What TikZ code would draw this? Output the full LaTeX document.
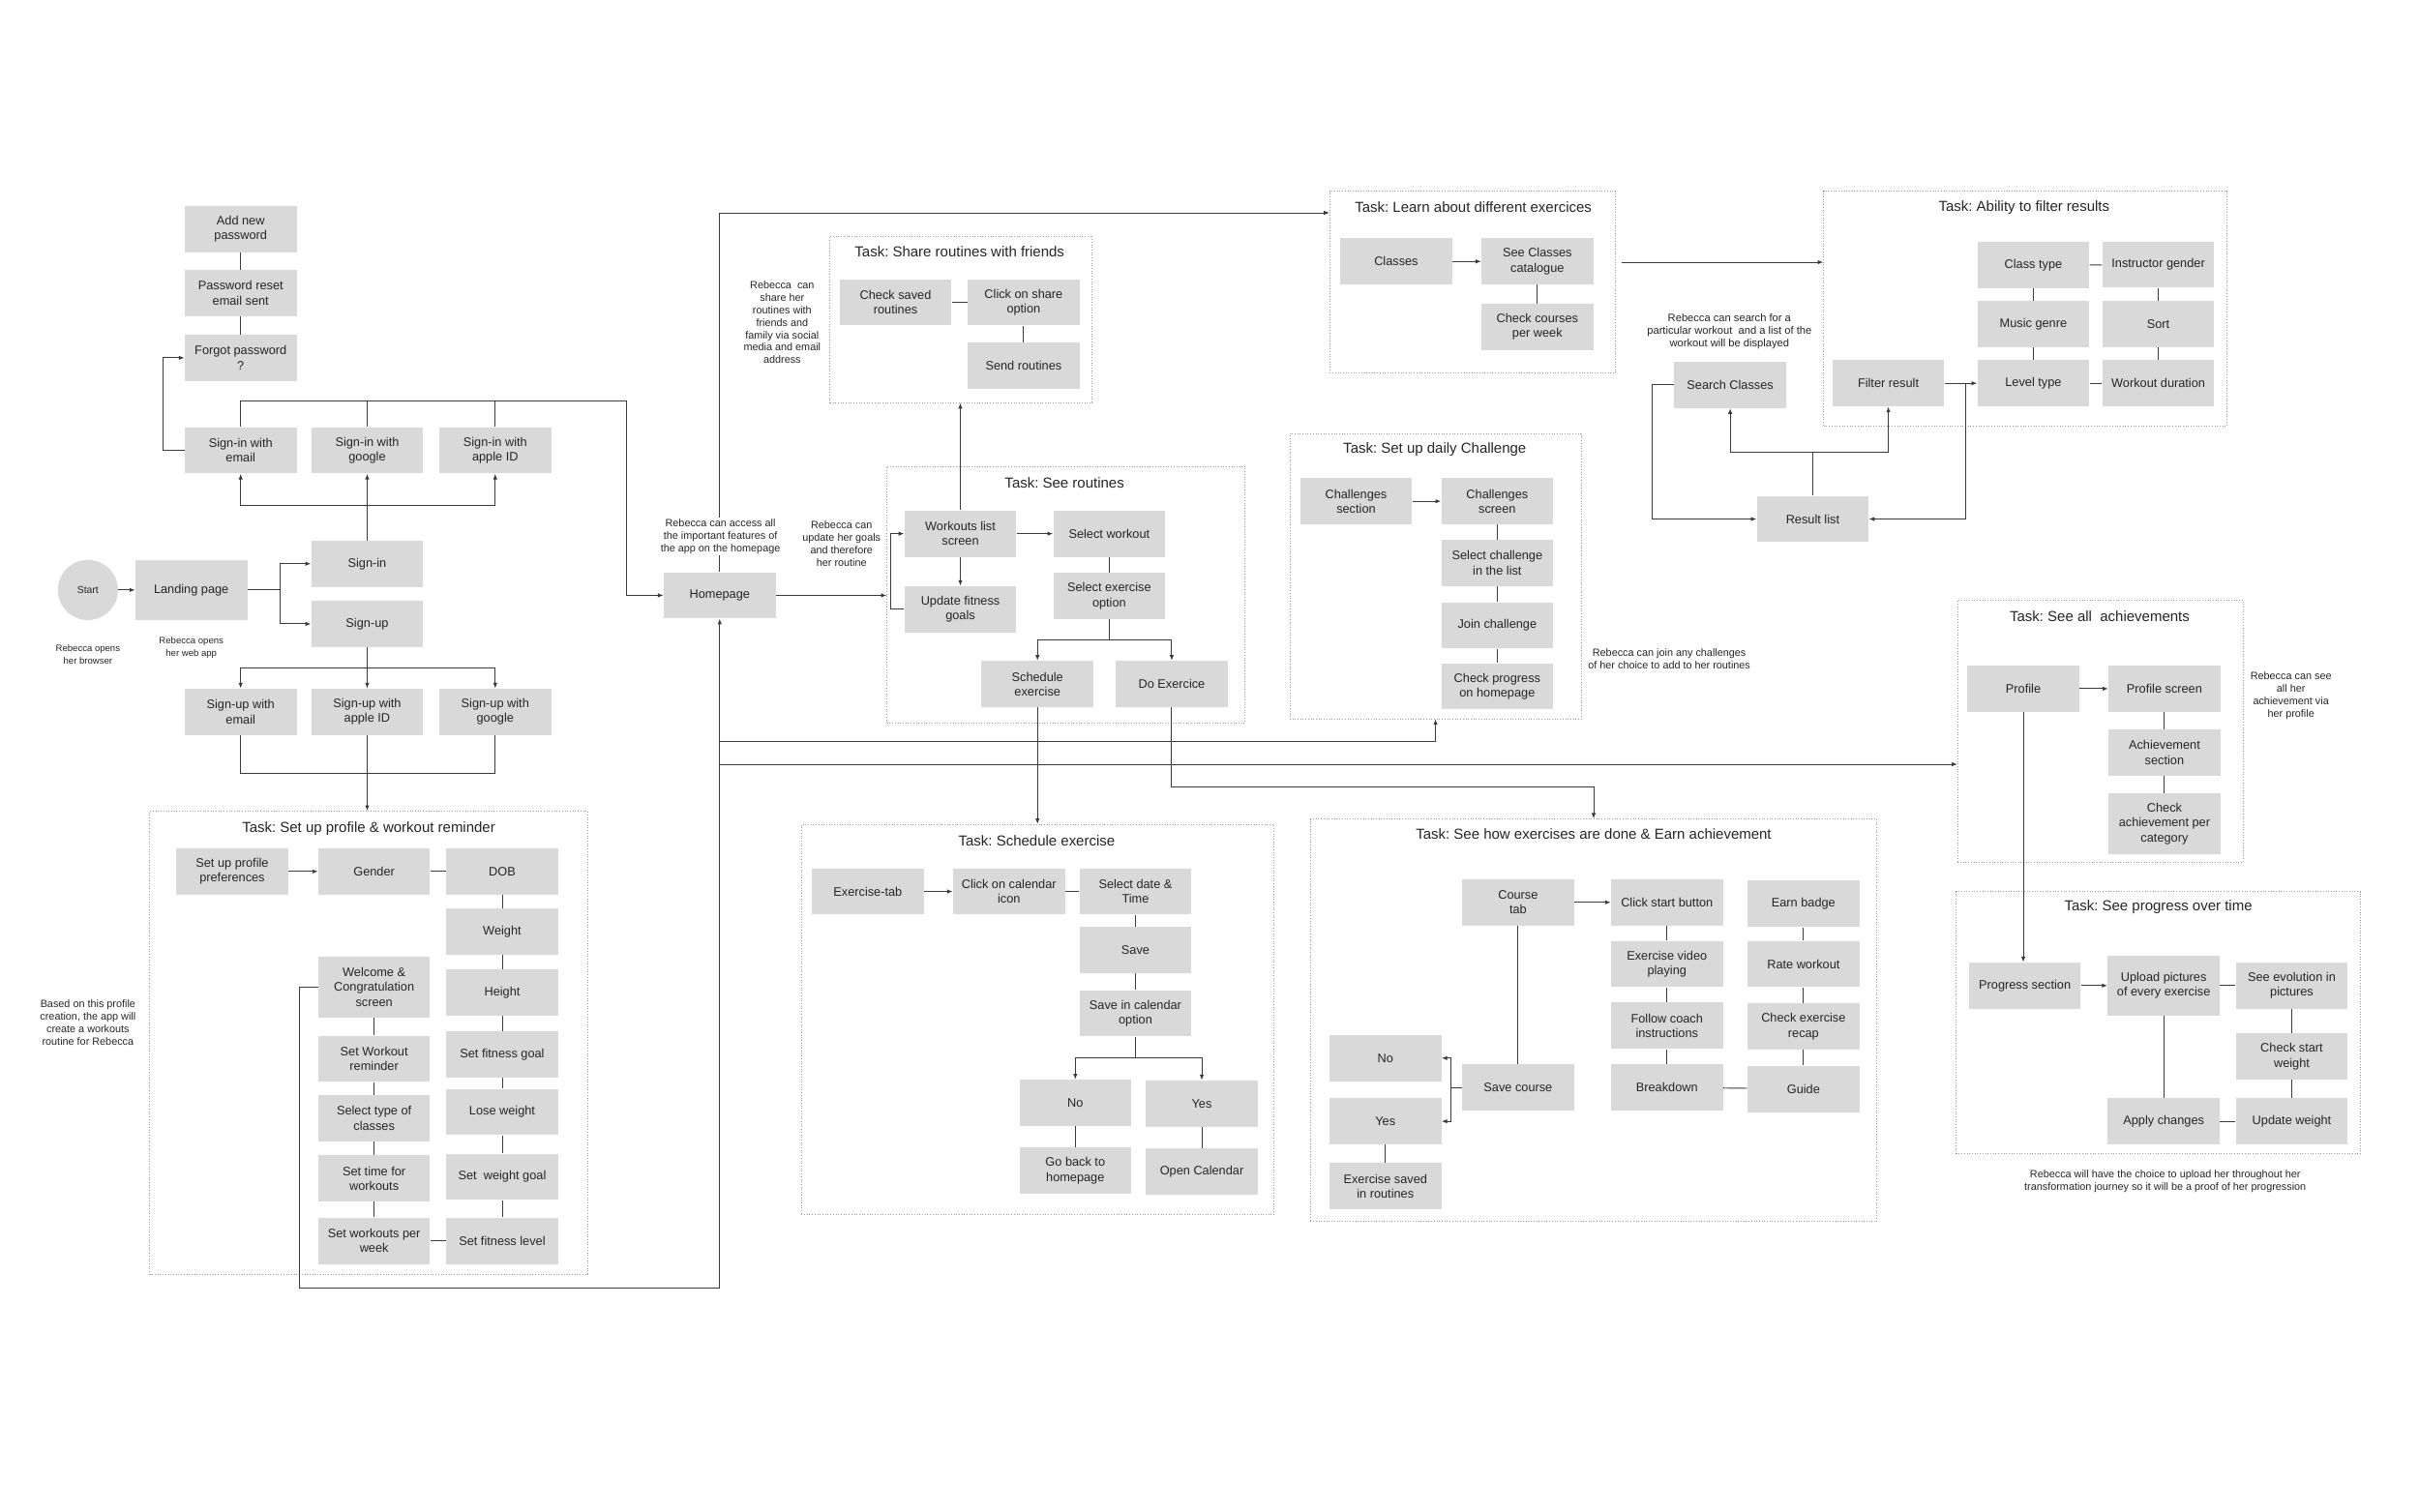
\documentclass[tikz,border=0pt]{standalone}
\usepackage{fontspec}
\setmainfont{Liberation Sans}
\setsansfont{Liberation Sans}
\usetikzlibrary{arrows.meta}
\frenchspacing

\definecolor{boxgray}{HTML}{D9D9D9}
\definecolor{linegray}{HTML}{3A3A3A}
\definecolor{framegray}{HTML}{9A9A9A}
\definecolor{textgray}{HTML}{262626}

\begin{document}
\begin{tikzpicture}[x=1pt, y=-1pt, font=\sffamily,
	box/.style={fill=boxgray, minimum width=72.5pt, minimum height=30pt, inner sep=1pt, align=center, text=textgray, font=\fontsize{8}{9.6}\selectfont},
	tallbox/.style={box, minimum height=39pt},
	task/.style={draw=framegray, line width=0.5pt, dash pattern=on 0.6pt off 1.1pt, inner sep=0pt},
	tasktitle/.style={text=textgray, font=\fontsize{9.4}{11}\selectfont},
	note/.style={align=center, text=textgray, inner sep=1pt, font=\fontsize{6.8}{8.1}\selectfont},
	link/.style={draw=linegray, line width=0.6pt},
	arr/.style={link, -{Latex[length=3.6pt,width=2.8pt]}}]

	% 0. Canvas
	\fill[white] (0,0) rectangle (1568,980);
	\useasboundingbox (0,0) rectangle (1568,980);

	% 1. Task frames
	\node[task, minimum width=284pt, minimum height=300pt] (tProfile) at (239,676) {};
	\node[task, minimum width=170pt, minimum height=108pt] (tShare) at (623,207) {};
	\node[task, minimum width=232pt, minimum height=166pt] (tRoutines) at (691,385.5) {};
	\node[task, minimum width=306pt, minimum height=253pt] (tSchedule) at (672.5,661) {};
	\node[task, minimum width=185pt, minimum height=118pt] (tLearn) at (954.5,183) {};
	\node[task, minimum width=189pt, minimum height=185pt] (tChallenge) at (930.5,373.5) {};
	\node[task, minimum width=367pt, minimum height=261pt] (tHow) at (1033,661.5) {};
	\node[task, minimum width=261.5pt, minimum height=152pt] (tFilter) at (1312.8,200) {};
	\node[task, minimum width=185pt, minimum height=170pt] (tAchieve) at (1361.5,474) {};
	\node[task, minimum width=262pt, minimum height=170pt] (tProgress) at (1399,663) {};

	\node[tasktitle] (tProfileT) at (239,537) {Task: Set up profile \& workout reminder};
	\node[tasktitle] (tShareT) at (622,163) {Task: Share routines with friends};
	\node[tasktitle] (tRoutinesT) at (690,313) {Task: See routines};
	\node[tasktitle] (tScheduleT) at (672,545) {Task: Schedule exercise};
	\node[tasktitle] (tLearnT) at (955,134.5) {Task: Learn about different exercices};
	\node[tasktitle] (tChallengeT) at (930,291.5) {Task: Set up daily Challenge};
	\node[tasktitle] (tHowT) at (1033,541) {Task: See how exercises are done \& Earn achievement};
	\node[tasktitle] (tFilterT) at (1312,134.5) {Task: Ability to filter results};
	\node[tasktitle] (tAchieveT) at (1361,399.5) {Task: See all~ achievements};
	\node[tasktitle] (tProgressT) at (1399,588) {Task: See progress over time};

	% 2. Start, sign-in and sign-up
	\node[circle, fill=boxgray, minimum size=39pt, inner sep=0pt, text=textgray, font=\fontsize{6.5}{8}\selectfont] (start) at (57,382.5) {Start};
	\node[box, minimum height=39pt] (landing) at (124,382.5) {Landing page};
	\node[box] (signIn) at (238,365.5) {Sign-in};
	\node[box] (signUp) at (238,404.5) {Sign-up};
	\node[box] (newPw) at (156,148.5) {Add new\\password};
	\node[box] (resetPw) at (156,190) {Password reset\\email sent};
	\node[box] (forgotPw) at (156,232) {Forgot password\\?};
	\node[box] (inEmail) at (156,292) {Sign-in with\\email};
	\node[box] (inGoogle) at (238,292) {Sign-in with\\google};
	\node[box] (inApple) at (321,292) {Sign-in with\\apple ID};
	\node[box] (upEmail) at (156,461.5) {Sign-up with\\email};
	\node[box] (upApple) at (238,461.5) {Sign-up with\\apple ID};
	\node[box] (upGoogle) at (321,461.5) {Sign-up with\\google};
	\node[note, font=\fontsize{6}{8}\selectfont] (browserNote) at (57,424.5) {Rebecca opens\\her browser};
	\node[note, font=\fontsize{6}{8}\selectfont] (webNote) at (124,420) {Rebecca opens\\her web app};

	% 3. Profile and workout reminder
	\node[box] (prefs) at (150.5,565) {Set up profile\\preferences};
	\node[box] (gender) at (242.5,565) {Gender};
	\node[box] (dob) at (325.5,565) {DOB};
	\node[box] (weight) at (325.5,604) {Weight};
	\node[box] (height) at (325.5,643.5) {Height};
	\node[box] (fitGoal) at (325.5,683.5) {Set fitness goal};
	\node[box] (loseW) at (325.5,721) {Lose weight};
	\node[box] (weightGoal) at (325.5,763) {Set~ weight goal};
	\node[box] (fitLevel) at (325.5,804.5) {Set fitness level};
	\node[tallbox] (welcome) at (242.5,640) {Welcome \&\\Congratulation\\screen};
	\node[box] (reminder) at (242.5,686.5) {Set Workout\\reminder};
	\node[box] (selType) at (242.5,725) {Select type of\\classes};
	\node[box] (timeW) at (242.5,764) {Set time for\\workouts};
	\node[box] (perWeek) at (242.5,804.5) {Set workouts per\\week};
	\node[note] (basedNote) at (57,663) {Based on this profile\\creation, the app will\\create a workouts\\routine for Rebecca};

	% 4. Homepage and routines
	\node[box] (home) at (466.5,386) {Homepage};
	\node[note] (updNote) at (545.5,352.5) {Rebecca can\\update her goals\\and therefore\\her routine};
	\node[note] (shareNote) at (507,209) {Rebecca~ can\\share her\\routines with\\friends and\\family via social\\media and email\\address};
	\node[box] (chkSaved) at (580.5,196) {Check saved\\routines};
	\node[box] (clickShare) at (663.5,196) {Click on share\\option};
	\node[box] (sendR) at (663.5,237) {Send routines};
	\node[box] (wList) at (622.5,346) {Workouts list\\screen};
	\node[box] (selWork) at (719,346) {Select workout};
	\node[box] (updGoals) at (622.5,395) {Update fitness\\goals};
	\node[box] (selEx) at (719,386.5) {Select exercise\\option};
	\node[box] (schedEx) at (672.5,443.5) {Schedule\\exercise};
	\node[box] (doEx) at (759.5,443.5) {Do Exercice};

	% 5. Schedule exercise
	\node[box] (exTab) at (562.5,578) {Exercise-tab};
	\node[box] (calIcon) at (654,578) {Click on calendar\\icon};
	\node[box] (selDate) at (736,578) {Select date \&\\Time};
	\node[box] (saveS) at (736,616) {Save};
	\node[box] (saveCal) at (736,657) {Save in calendar\\option};
	\node[box] (noS) at (697,715) {No};
	\node[box] (yesS) at (779,715.5) {Yes};
	\node[box] (goBack) at (697,759) {Go back to\\homepage};
	\node[box] (openCal) at (779,759.5) {Open Calendar};

	% 6. Learn, challenge, search and filter
	\node[box] (classes) at (905,169.5) {Classes};
	\node[box] (seeCat) at (996.5,169.5) {See Classes\\catalogue};
	\node[box] (chkCourses) at (996.5,212) {Check courses\\per week};
	\node[box] (chSection) at (879,325) {Challenges\\section};
	\node[box] (chScreen) at (970.5,325) {Challenges\\screen};
	\node[box] (selCh) at (970.5,365) {Select challenge\\in the list};
	\node[box] (joinCh) at (970.5,405.5) {Join challenge};
	\node[box] (chkProg) at (970.5,445) {Check progress\\on homepage};
	\node[note] (joinNote) at (1082,427) {Rebecca can join any challenges\\of her choice to add to her routines};
	\node[note, font=\fontsize{7}{8.1}\selectfont] (searchNote) at (1121,215) {Rebecca can search for a\\particular workout~ and a list of the\\workout will be displayed};
	\node[box] (search) at (1121.5,249.5) {Search Classes};
	\node[box] (filterR) at (1224,248.5) {Filter result};
	\node[box] (result) at (1175,336.5) {Result list};
	\node[box] (classT) at (1318,172) {Class type};
	\node[box] (instr) at (1399,171.5) {Instructor gender};
	\node[box] (music) at (1318,210) {Music genre};
	\node[box] (sortN) at (1399,210) {Sort};
	\node[box] (level) at (1318,248.5) {Level type};
	\node[box] (duration) at (1399,248.5) {Workout duration};

	% 7. Exercises and achievements
	\node[box] (courseTab) at (984,585) {Course\\tab};
	\node[box] (clickStart) at (1080.5,585) {Click start button};
	\node[box] (earn) at (1169,586) {Earn badge};
	\node[box] (video) at (1080.5,625) {Exercise video\\playing};
	\node[box] (rate) at (1169,625) {Rate workout};
	\node[box] (coach) at (1080.5,665) {Follow coach\\instructions};
	\node[box] (recap) at (1169,665.5) {Check exercise\\recap};
	\node[box] (breakdown) at (1080.5,705) {Breakdown};
	\node[box] (guide) at (1169,706) {Guide};
	\node[box] (saveCourse) at (984,705) {Save course};
	\node[box] (noH) at (898,686) {No};
	\node[box] (yesH) at (898,727) {Yes};
	\node[box] (savedH) at (898,769) {Exercise saved\\in routines};
	\node[box] (profileA) at (1311.5,446.5) {Profile};
	\node[box] (profScr) at (1403,446.5) {Profile screen};
	\node[box] (achSec) at (1403,488) {Achievement\\section};
	\node[tallbox] (chkAch) at (1403,534) {Check\\achievement per\\category};
	\node[note] (achNote) at (1485,451) {Rebecca can see\\all her\\achievement via\\her profile};
	\node[box] (progSec) at (1312.5,639) {Progress section};
	\node[tallbox] (upload) at (1402.5,639) {Upload pictures\\of every exercise};
	\node[box] (seeEvo) at (1485.5,639) {See evolution in\\pictures};
	\node[box] (chkStart) at (1485.5,685) {Check start\\weight};
	\node[box] (applyCh) at (1402.5,727) {Apply changes};
	\node[box] (updW) at (1485.5,727) {Update weight};
	\node[note] (progNote) at (1403.5,766) {Rebecca will have the choice to upload her throughout her\\transformation journey so it will be a proof of her progression};

	% 8. Connectors: sign-in and sign-up
	\draw[arr] (start) -- (landing);
	\coordinate (lpFork) at (181.5,382.5);
	\draw[link] (landing.east) -- (lpFork);
	\draw[arr] (lpFork) |- (signIn.west);
	\draw[arr] (lpFork) |- (signUp.west);
	\coordinate (inBar) at (238,328);
	\draw[arr] (signIn.north) -- (inGoogle.south);
	\draw[arr] (inBar) -| (inEmail.south);
	\draw[arr] (inBar) -| (inApple.south);
	\draw[arr] (inEmail.west) -- ++(-14,0) |- (forgotPw.west);
	\draw[link] (forgotPw) -- (resetPw);
	\draw[link] (resetPw) -- (newPw);
	\coordinate (topBar) at (406,260);
	\draw[link] (inGoogle.north) -- (inGoogle.north |- topBar);
	\draw[link] (inApple.north) -- (inApple.north |- topBar);
	\draw[arr] (inEmail.north) |- (topBar) |- (home.west);
	\coordinate (upBar) at (238,433);
	\draw[arr] (signUp.south) -- (upApple.north);
	\draw[arr] (upBar) -| (upEmail.north);
	\draw[arr] (upBar) -| (upGoogle.north);
	\coordinate (upJoin) at (238,501.5);
	\draw[link] (upEmail.south) |- (upJoin) -| (upGoogle.south);
	\draw[link] (upApple.south) -- (upJoin);
	\draw[arr] (upJoin) -- (upJoin |- tProfile.north);

	% 9. Connectors: profile
	\draw[arr] (prefs) -- (gender);
	\draw[link] (gender) -- (dob);
	\foreach \a/\b in {dob/weight, weight/height, height/fitGoal, fitGoal/loseW, loseW/weightGoal, weightGoal/fitLevel, fitLevel/perWeek, perWeek/timeW, timeW/selType, selType/reminder, reminder/welcome}
		\draw[link] (\a) -- (\b);
	\coordinate (hmLoop) at (194,835);
	\draw[arr] (welcome.west) -| (hmLoop) -| (home.south);

	% 10. Connectors: homepage
	\coordinate (learnTop) at (466.5,138);
	\draw[arr] (home.north) -- (learnTop) -- (learnTop -| tLearn.west);
	\draw[arr] (home.east) -- (home.east -| tRoutines.west);
	\coordinate (hmA) at (466.5,481);
	\coordinate (hmB) at (466.5,495.5);
	\draw[arr] (hmA) -| (tChallenge.south);
	\draw[arr] (hmB) -- (hmB -| tAchieve.west);

	% 11. Connectors: routines, share, schedule
	\draw[arr] (wList) -- (selWork);
	\draw[arr] (wList) -- (updGoals);
	\draw[link] (selWork) -- (selEx);
	\coordinate (exBar) at (719,415);
	\draw[link] (selEx.south) -- (exBar);
	\draw[arr] (exBar) -| (schedEx.north);
	\draw[arr] (exBar) -| (doEx.north);
	\draw[arr] (updGoals.west) -- ++(-9,0) |- (wList.west);
	\draw[arr] (wList.north) -- (wList.north |- tShare.south);
	\draw[link] (chkSaved) -- (clickShare);
	\draw[link] (clickShare) -- (sendR);
	\draw[arr] (schedEx.south) -- (schedEx.south |- tSchedule.north);
	\draw[arr] (exTab) -- (calIcon);
	\draw[link] (calIcon) -- (selDate);
	\draw[link] (selDate) -- (saveS);
	\draw[link] (saveS) -- (saveCal);
	\coordinate (calBar) at (736,686);
	\draw[link] (saveCal.south) -- (calBar);
	\draw[arr] (calBar) -| (noS.north);
	\draw[arr] (calBar) -| (yesS.north);
	\draw[link] (noS) -- (goBack);
	\draw[link] (yesS) -- (openCal);
	\coordinate (doBend) at (759.5,510.5);
	\draw[arr] (doEx.south) -- (doBend) -| (tHow.north);

	% 12. Connectors: learn, challenge, filter
	\draw[arr] (classes) -- (seeCat);
	\draw[link] (seeCat) -- (chkCourses);
	\coordinate (lfStart) at (1051,170);
	\draw[arr] (lfStart) -- (lfStart -| tFilter.west);
	\draw[arr] (chSection) -- (chScreen);
	\foreach \a/\b in {chScreen/selCh, selCh/joinCh, joinCh/chkProg}
		\draw[link] (\a) -- (\b);
	\draw[arr] (search.west) -- ++(-14,0) |- (result.west);
	\coordinate (resBar) at (1175,293);
	\draw[link] (result.north) -- (resBar);
	\draw[arr] (resBar) -| (search.south);
	\draw[arr] (resBar) -| (filterR.south);
	\coordinate (fiFork) at (1274,248.5);
	\draw[link] (filterR.east) -- (fiFork);
	\draw[arr] (fiFork) -- (level.west);
	\draw[arr] (fiFork) |- (result.east);
	\foreach \a/\b in {classT/instr, classT/music, music/level, instr/sortN, sortN/duration, level/duration}
		\draw[link] (\a) -- (\b);

	% 13. Connectors: exercises, achievements, progress
	\draw[arr] (courseTab) -- (clickStart);
	\draw[link] (courseTab) -- (saveCourse);
	\draw[link] (saveCourse.west) -- ++(-7,0) coordinate (scFork);
	\draw[arr] (scFork) |- (noH.east);
	\draw[arr] (scFork) |- (yesH.east);
	\draw[link] (yesH) -- (savedH);
	\foreach \a/\b in {clickStart/video, video/coach, coach/breakdown, breakdown/guide, guide/recap, recap/rate, rate/earn}
		\draw[link] (\a) -- (\b);
	\draw[arr] (profileA) -- (profScr);
	\draw[link] (profScr) -- (achSec);
	\draw[link] (achSec) -- (chkAch);
	\draw[arr] (profileA.south) -- (profileA.south |- progSec.north);
	\draw[arr] (progSec) -- (upload);
	\draw[link] (upload) -- (seeEvo);
	\draw[link] (seeEvo) -- (chkStart);
	\draw[link] (chkStart) -- (updW);
	\draw[link] (updW) -- (applyCh);
	\draw[link] (applyCh) -- (upload);

	% 14. Note on the homepage line
	\node[note, fill=white] (homeNote) at (467,348) {Rebecca can access all\\the important features of\\the app on the homepage};
\end{tikzpicture}
\end{document}
